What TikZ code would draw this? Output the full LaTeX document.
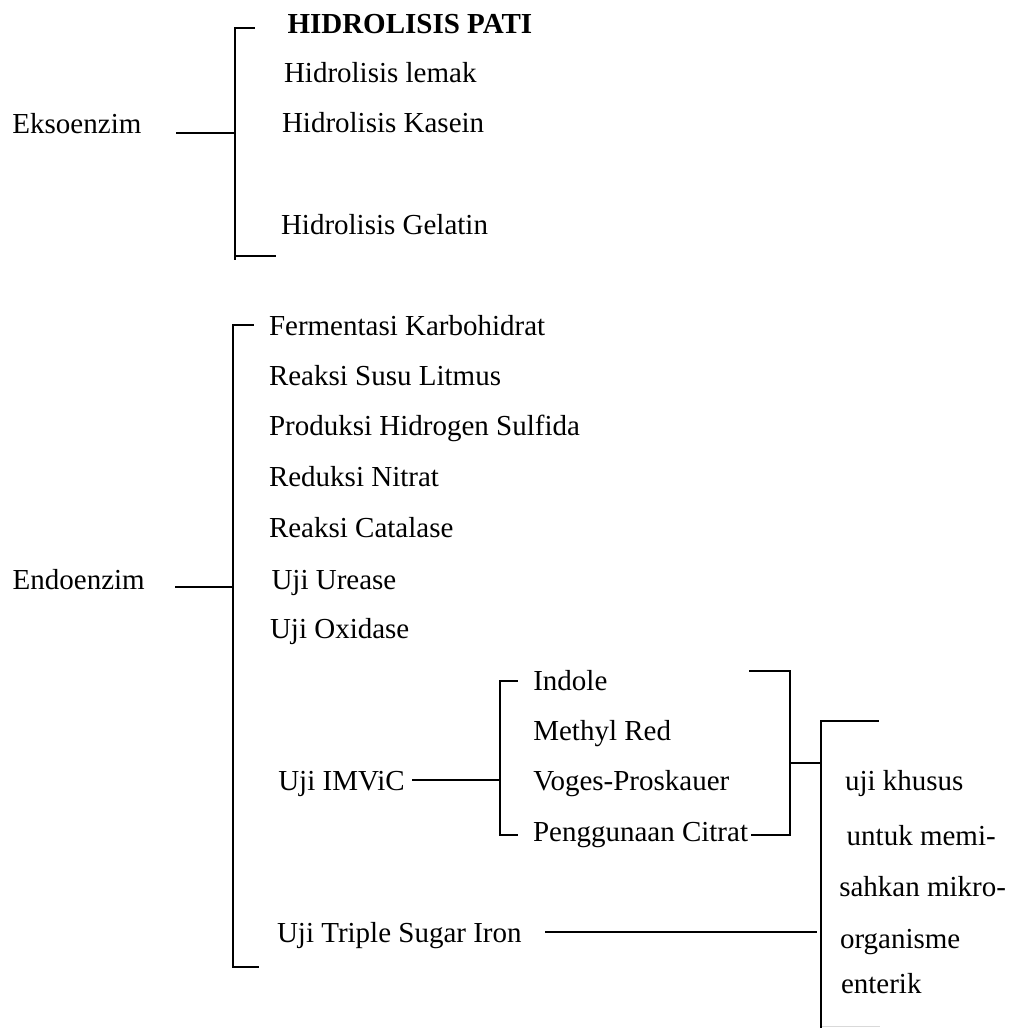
\documentclass[tikz,border=0pt]{standalone}
\usepackage{fontspec}
\setmainfont{Liberation Serif}
\begin{document}
\begin{tikzpicture}[x=1pt,y=-1pt,
  lbl/.style={anchor=base west,inner sep=0pt,outer sep=0pt,font=\fontsize{29}{35}\selectfont},
  bold/.style={lbl,font=\fontsize{29}{35}\selectfont\bfseries},
  ln/.style={line width=1.9pt,line cap=rect}]
\useasboundingbox (0,0) rectangle (1013,1028);
% ---------- Eksoenzim ----------
\node[lbl] (eks) at (12.5,133.3) {Eksoenzim};
\node[bold] (pati) at (287.5,33.3) {HIDROLISIS PATI};
\node[lbl] (lemak) at (284,82.7) {Hidrolisis lemak};
\node[lbl] (kasein) at (282,132.7) {Hidrolisis Kasein};
\node[lbl] (gelatin) at (281,234.3) {Hidrolisis Gelatin};
\coordinate (e0) at (176.8,133.3);
\coordinate (e1) at (235,133.3);
\coordinate (et0) at (254,28.3);
\coordinate (et1) at (235,28.3);
\coordinate (eb0) at (235,259.3);
\coordinate (eb1) at (235,256);
\coordinate (eb2) at (275,256);
\draw[ln] (e0) -- (e1);
\draw[ln] (et0) -- (et1) -- (eb0);
\draw[ln] (eb1) -- (eb2);
% ---------- Endoenzim ----------
\node[lbl] (endo) at (12.7,589.3) {Endoenzim};
\node[lbl] (ferm) at (269,335) {Fermentasi Karbohidrat};
\node[lbl] (susu) at (269,385) {Reaksi Susu Litmus};
\node[lbl] (h2s) at (269,435) {Produksi Hidrogen Sulfida};
\node[lbl] (nitrat) at (269,486.7) {Reduksi Nitrat};
\node[lbl] (catal) at (269,537) {Reaksi Catalase};
\node[lbl] (urease) at (271.5,589.3) {Uji Urease};
\node[lbl] (oxid) at (270,638) {Uji Oxidase};
\node[lbl] (imvic) at (278.3,790.7) {Uji IMViC};
\node[lbl] (tsi) at (277,942.7) {Uji Triple Sugar Iron};
\coordinate (n0) at (176,586.7);
\coordinate (n1) at (233,586.7);
\coordinate (nt0) at (253,325);
\coordinate (nt1) at (233,325);
\coordinate (nb1) at (233,966.7);
\coordinate (nb2) at (258.5,966.7);
\draw[ln] (n0) -- (n1);
\draw[ln] (nt0) -- (nt1) -- (nb1) -- (nb2);
% ---------- IMViC ----------
\node[lbl] (indole) at (533.3,690) {Indole};
\node[lbl] (mr) at (533.3,740.7) {Methyl Red};
\node[lbl] (vp) at (533.3,790) {Voges-Proskauer};
\node[lbl] (citrat) at (533,841.7) {Penggunaan Citrat};
\coordinate (i0) at (412.7,780);
\coordinate (i1) at (500,780);
\coordinate (it0) at (516.7,680.7);
\coordinate (it1) at (500,680.7);
\coordinate (ib1) at (500,835);
\coordinate (ib2) at (517.3,835);
\draw[ln] (i0) -- (i1);
\draw[ln] (it0) -- (it1) -- (ib1) -- (ib2);
% ---------- right brackets ----------
\coordinate (c0) at (752,835);
\coordinate (c1) at (790,835);
\coordinate (r0) at (750,671);
\coordinate (r1) at (790,671);
\coordinate (k0) at (790,762.7);
\coordinate (k1) at (820.7,762.7);
\coordinate (s0) at (878,721);
\coordinate (s1) at (820.7,721);
\coordinate (s2) at (820.7,1028);
\coordinate (t0) at (546.4,932);
\coordinate (t1) at (816,932);
\coordinate (g0) at (822,1026.7);
\coordinate (g1) at (880,1026.7);
\draw[ln] (c0) -- (c1);
\draw[ln] (r0) -- (r1) -- (c1);
\draw[ln] (k0) -- (k1);
\draw[ln] (s0) -- (s1) -- (s2);
\draw[ln] (t0) -- (t1);
\draw[line width=1.5pt,black!15] (g0) -- (g1);
\node[lbl] (k1t) at (845,790) {uji khusus};
\node[lbl] (k2t) at (846.7,845) {untuk memi-};
\node[lbl] (k3t) at (839.3,896.7) {sahkan mikro-};
\node[lbl] (k4t) at (840,948) {organisme};
\node[lbl] (k5t) at (841,993.3) {enterik};
\end{tikzpicture}
\end{document}
